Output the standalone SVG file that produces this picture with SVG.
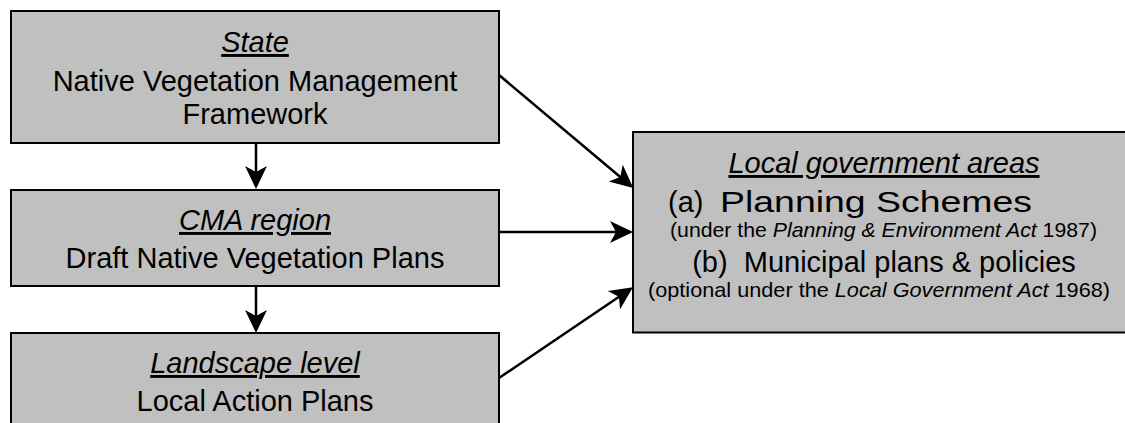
<svg xmlns="http://www.w3.org/2000/svg" width="1125" height="423" viewBox="0 0 1125 423">
  <style>
    .box { fill:#c0c0c0; stroke:#000; stroke-width:2; }
    .t { font-family:"Liberation Sans", Arial, sans-serif; font-size:29px; fill:#000; text-anchor:middle; }
    .l { text-anchor:start; }
    .s { font-size:21px; }
    .i { font-style:italic; }
    .u { text-decoration:underline; }
    .conn { stroke:#000; stroke-width:2.5; fill:none; marker-end:url(#ah); }
  </style>
  <defs>
    <marker id="ah" markerUnits="userSpaceOnUse" viewBox="-26 -12 28 24" markerWidth="28" markerHeight="24" refX="-3" refY="0" orient="auto">
      <path d="M0,0 L-23,-11 L-17,0 L-23,11 Z" fill="#000"/>
    </marker>
  </defs>
  <rect width="1125" height="423" fill="#fff"/>

  <g id="state">
    <rect class="box" x="11" y="11" width="488" height="132"/>
    <text class="t i u" x="255" y="52">State</text>
    <text class="t" x="255" y="91">Native Vegetation Management</text>
    <text class="t" x="255" y="124">Framework</text>
  </g>

  <g id="cma">
    <rect class="box" x="11" y="190" width="488" height="96"/>
    <text class="t i u" x="255" y="230">CMA region</text>
    <text class="t" x="255" y="268">Draft Native Vegetation Plans</text>
  </g>

  <g id="landscape">
    <rect class="box" x="11" y="333" width="488" height="110"/>
    <text class="t i u" x="255" y="373">Landscape level</text>
    <text class="t" x="255" y="411">Local Action Plans</text>
  </g>

  <g id="local">
    <rect class="box" x="633" y="132" width="500" height="200.5"/>
    <text class="t i u" x="884" y="173">Local government areas</text>
    <text class="t l" y="212"><tspan x="668">(a)</tspan><tspan x="720" textLength="312" lengthAdjust="spacingAndGlyphs">Planning Schemes</tspan></text>
    <text class="t s" x="883.5" y="237" textLength="427" lengthAdjust="spacingAndGlyphs">(under the <tspan class="i">Planning &amp; Environment Act</tspan> 1987)</text>
    <text class="t" x="884" y="272" xml:space="preserve">(b)  Municipal plans &amp; policies</text>
    <text class="t s" x="879" y="297" textLength="462" lengthAdjust="spacingAndGlyphs">(optional under the <tspan class="i">Local Government Act</tspan> 1968)</text>
  </g>

  <g id="connectors">
    <path class="conn" d="M256,143 L256,186"/>
    <path class="conn" d="M256,286 L256,330"/>
    <path class="conn" d="M499,75 L631,186"/>
    <path class="conn" d="M499,232 L630,232"/>
    <path class="conn" d="M499,378 L630.5,289"/>
  </g>
</svg>
